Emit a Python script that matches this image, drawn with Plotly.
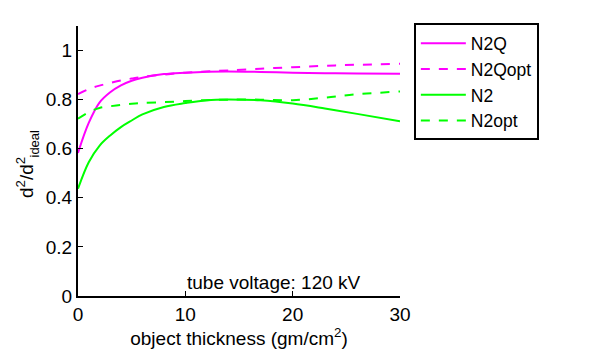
import plotly.graph_objects as go

x = [0, 1, 2, 3, 4, 5, 6, 8, 10, 12, 14, 17, 20, 23, 26, 30]
n2q = [0.583, 0.705, 0.788, 0.830, 0.858, 0.877, 0.889, 0.904, 0.910, 0.914, 0.915, 0.913, 0.910, 0.908, 0.906, 0.905]
n2qopt = [0.823, 0.843, 0.857, 0.868, 0.878, 0.886, 0.893, 0.902, 0.910, 0.915, 0.919, 0.926, 0.932, 0.938, 0.942, 0.946]
n2 = [0.437, 0.545, 0.612, 0.654, 0.688, 0.715, 0.740, 0.770, 0.786, 0.798, 0.801, 0.797, 0.784, 0.764, 0.742, 0.712]
n2opt = [0.722, 0.749, 0.766, 0.773, 0.779, 0.783, 0.786, 0.790, 0.794, 0.798, 0.800, 0.800, 0.798, 0.808, 0.822, 0.833]

series = [
    ("N2Q", n2q, "#FF00FF", "solid"),
    ("N2Qopt", n2qopt, "#FF00FF", "dash"),
    ("N2", n2, "#00FF00", "solid"),
    ("N2opt", n2opt, "#00FF00", "dash"),
]

FONT = "Liberation Sans, Arial, sans-serif"

fig = go.Figure()
for name, ys, col, dash in series:
    fig.add_trace(go.Scatter(x=x, y=ys, mode="lines", name=name,
                             line=dict(color=col, width=2, dash=dash, shape="spline")))

fig.update_layout(
    width=600, height=351,
    margin=dict(l=78, r=200, t=26, b=55, autoexpand=False),
    paper_bgcolor="white", plot_bgcolor="white",
    font=dict(family=FONT, size=19, color="black"),
    showlegend=True,
    legend=dict(x=1.043, y=1.01, xanchor="left", yanchor="top",
                bordercolor="black", borderwidth=2, bgcolor="white",
                font=dict(size=17.5), tracegroupgap=0, itemwidth=45),
    xaxis=dict(range=[0, 30], tickvals=[0, 10, 20, 30], ticks="inside", ticklen=5,
               tickwidth=1, tickcolor="black", showline=True, linecolor="black", linewidth=2,
               showgrid=False, zeroline=False, mirror=False,
               title=dict(text="object thickness (gm/cm<sup>2</sup>)", standoff=4,
                          font=dict(size=19))),
    yaxis=dict(range=[0, 1.1], tickvals=[0, 0.2, 0.4, 0.6, 0.8, 1],
               ticktext=["0", "0.2", "0.4", "0.6", "0.8", "1"], ticks="inside", ticklen=5,
               tickwidth=1, tickcolor="black", showline=True, linecolor="black", linewidth=2,
               showgrid=False, zeroline=False, mirror=False),
)

# y-axis label with stacked super/subscript: d^2/d^2_ideal
fig.add_annotation(x=(25 - 78) / 322, y=(296 - 178) / 270, xref="paper", yref="paper",
                   text="d<sup>2</sup>/d<sup>2</sup>", textangle=-90, showarrow=False,
                   xanchor="center", yanchor="middle",
                   font=dict(size=19, family=FONT, color="black"))
fig.add_annotation(x=(34 - 78) / 322, y=(296 - 143.5) / 270, xref="paper", yref="paper",
                   text="ideal", textangle=-90, showarrow=False,
                   xanchor="center", yanchor="middle",
                   font=dict(size=13, family=FONT, color="black"))

fig.add_annotation(x=10, y=0.055, xref="x", yref="y", text="tube voltage: 120 kV",
                   showarrow=False, xanchor="left", yanchor="middle",
                   font=dict(size=19, family=FONT, color="black"))

fig.write_html("out.html")
